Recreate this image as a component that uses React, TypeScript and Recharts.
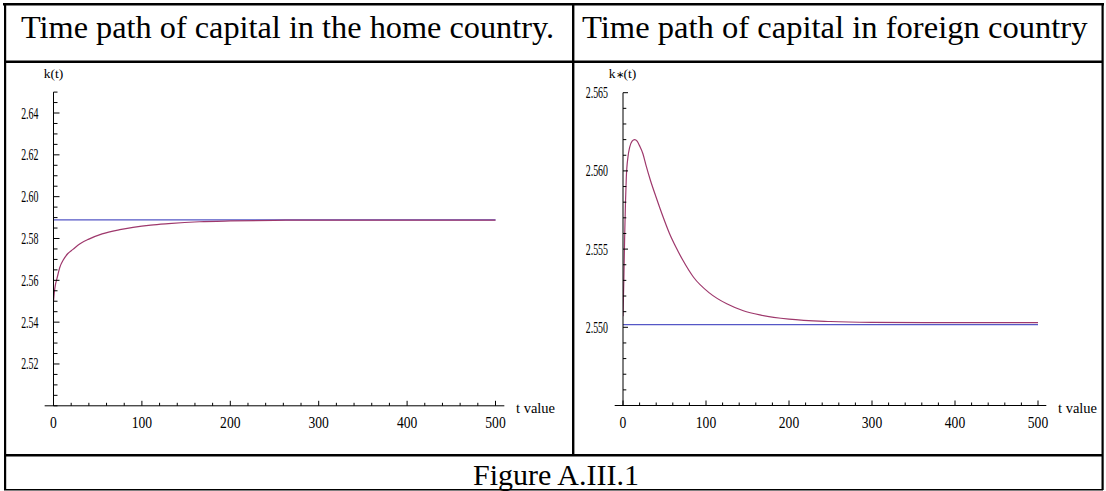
import { LineChart, Line, XAxis, YAxis, ReferenceLine } from 'recharts'

const FONT = "'Liberation Serif', 'Times New Roman', serif"
const RED = '#9e386c'
const BLUE = '#5557c6'

// time path of k(t), home country
const homeT = [0, 1, 2, 4, 7, 11, 16, 22, 30, 40, 55, 75, 90, 110, 130, 165, 200, 250, 300, 400, 500]
const homeK = [2.55, 2.5545, 2.5575, 2.561, 2.566, 2.5697, 2.5727, 2.5748, 2.5775, 2.5797, 2.5822, 2.5842, 2.5853, 2.5864, 2.5871, 2.588, 2.5884, 2.5887, 2.5888, 2.5888, 2.5888]
const homeSteady = 2.5889

// time path of k*(t), foreign country
const foreignT = [0, 1, 2, 3, 4, 6, 8, 11, 14, 17, 20, 24, 28, 33, 40, 48, 56, 64, 72, 85, 104, 125, 145, 165, 200, 250, 300, 400, 500]
const foreignK = [2.5507, 2.553, 2.5558, 2.558, 2.5596, 2.5609, 2.5615, 2.5619, 2.562, 2.5619, 2.5616, 2.5611, 2.5603, 2.5594, 2.5583, 2.5571, 2.556, 2.5551, 2.5543, 2.5532, 2.5522, 2.5515, 2.55106, 2.55079, 2.55052, 2.55037, 2.55032, 2.5503, 2.5503]
const foreignSteady = 2.55017

const tTicks = [0, 20, 40, 60, 80, 100, 120, 140, 160, 180, 200, 220, 240, 260, 280, 300, 320, 340, 360, 380, 400, 420, 440, 460, 480, 500]
const tLabels = [0, 100, 200, 300, 400, 500]

const homeTicks = [2.5, 2.505, 2.51, 2.515, 2.52, 2.525, 2.53, 2.535, 2.54, 2.545, 2.55, 2.555, 2.56, 2.565, 2.57, 2.575, 2.58, 2.585, 2.59, 2.595, 2.6, 2.605, 2.61, 2.615, 2.62, 2.625, 2.63, 2.635, 2.64, 2.645, 2.65]
const homeLabels = ['2.52', '2.54', '2.56', '2.58', '2.60', '2.62', '2.64']

const foreignTicks = [2.545, 2.546, 2.547, 2.548, 2.549, 2.55, 2.551, 2.552, 2.553, 2.554, 2.555, 2.556, 2.557, 2.558, 2.559, 2.56, 2.561, 2.562, 2.563, 2.564, 2.565]
const foreignLabels = ['2.550', '2.555', '2.560', '2.565']

const homeData = homeT.map((t, i) => ({ t, k: homeK[i] }))
const homeSteadyData = [{ t: 0, k: homeSteady }, { t: 500, k: homeSteady }]
const foreignData = foreignT.map((t, i) => ({ t, k: foreignK[i] }))
const foreignSteadyData = [{ t: 0, k: foreignSteady }, { t: 500, k: foreignSteady }]

// width in em of a label in Times
const emWidth = (s: string) => s.split('').reduce((w, c) => w + (c === '.' ? 0.25 : 0.5), 0)

const XTick = (props: any) => {
  const { x, y, payload } = props
  const v = payload.value
  const major = tLabels.includes(v)
  const label = String(v)
  return (
    <g>
      <line x1={x} x2={x} y1={y} y2={y - (major ? 5 : 3)} stroke="#000" strokeWidth={1} />
      {major && (
        <text x={x} y={y + 22} textAnchor="middle" fontFamily={FONT} fontSize={16} fill="#000"
          textLength={emWidth(label) * 13.6} lengthAdjust="spacingAndGlyphs">{label}</text>
      )}
    </g>
  )
}

const makeYTick = (labels: string[], majorLen: number, minorLen: number) => (props: any) => {
  const { x, y, payload } = props
  const v = Number(payload.value)
  const label = labels.find((l) => Math.abs(Number(l) - v) < 1e-7)
  const major = label !== undefined
  return (
    <g>
      <line x1={x} x2={x + (major ? majorLen : minorLen)} y1={y} y2={y} stroke="#000" strokeWidth={1} />
      {major && (
        <text x={x - 15} y={y} dy={5.5} textAnchor="end" fontFamily={FONT} fontSize={16} fill="#000"
          textLength={emWidth(label) * 9.9} lengthAdjust="spacingAndGlyphs">{label}</text>
      )}
    </g>
  )
}

const HomeYTick = makeYTick(homeLabels, 6, 4)
const ForeignYTick = makeYTick(foreignLabels, 5, 3.3)

function Panel({ data, steady, ticks, tick, domain, width, height, margin, yWidth }: any) {
  return (
    <LineChart width={width} height={height} margin={margin}>
      <XAxis dataKey="t" type="number" domain={[0, 510]} ticks={tTicks} interval={0}
        axisLine={false} tickLine={false} tickSize={0} tickMargin={0} height={30} tick={<XTick />} allowDataOverflow />
      <YAxis type="number" domain={domain} ticks={ticks} interval={0} width={yWidth}
        axisLine={{ stroke: '#000', strokeWidth: 1 }} tickLine={false} tickSize={0} tickMargin={0} tick={tick} allowDataOverflow />
      <ReferenceLine segment={[{ x: -10, y: domain[0] }, { x: 510, y: domain[0] }]} stroke="#000" strokeWidth={1} ifOverflow="visible" />
      <Line data={steady} dataKey="k" type="linear" stroke={BLUE} strokeWidth={1.2} dot={false} isAnimationActive={false} />
      <Line data={data} dataKey="k" type="monotone" stroke={RED} strokeWidth={1.2} dot={false} isAnimationActive={false} />
    </LineChart>
  )
}

export default function App() {
  return (
    <div style={{ position: 'absolute', left: 0, top: 0, width: 1106, height: 491, background: '#fff', overflow: 'hidden' }}>
      <div style={{ position: 'absolute', left: 0, top: 0 }}>
        <Panel data={homeData} steady={homeSteadyData} ticks={homeTicks} tick={<HomeYTick />} domain={[2.5, 2.65]}
          width={570} height={450} yWidth={53.5} margin={{ top: 92.1, right: 65.66, bottom: 14.2, left: 0 }} />
      </div>
      <div style={{ position: 'absolute', left: 575, top: 0 }}>
        <Panel data={foreignData} steady={foreignSteadyData} ticks={foreignTicks} tick={<ForeignYTick />} domain={[2.545, 2.565]}
          width={531} height={450} yWidth={48} margin={{ top: 92.7, right: 59.7, bottom: 14.5, left: 0 }} />
      </div>
      <svg width={1106} height={491} style={{ position: 'absolute', left: 0, top: 0, pointerEvents: 'none' }}>
        <g fill="#000">
          <rect x={3} y={3} width={1101} height={2.5} />
          <rect x={4} y={3} width={2.2} height={487} />
          <rect x={1101.5} y={3} width={2.2} height={487} />
          <rect x={4} y={60.5} width={1099} height={2.5} />
          <rect x={572} y={3} width={2.4} height={453} />
          <rect x={4} y={454} width={1099} height={2.5} />
          <rect x={4} y={489} width={1099} height={1.5} />
        </g>
        <g fontFamily={FONT} fill="#000">
          <text x={21} y={38} fontSize={32.3}>Time path of capital in the home country.</text>
          <text x={582} y={38} fontSize={32.6}>Time path of capital in foreign country</text>
          <text x={556} y={485} fontSize={30} textAnchor="middle">Figure A.III.1</text>
          <text x={53.5} y={77.5} fontSize={13.5} textAnchor="middle">k(t)</text>
          <text x={622.5} y={77.5} fontSize={13.5} textAnchor="middle">k<tspan fontSize={10}>∗</tspan>(t)</text>
          <text x={516} y={413} fontSize={14.5}>t value</text>
          <text x={1058} y={413} fontSize={14.5}>t value</text>
        </g>
      </svg>
    </div>
  )
}
